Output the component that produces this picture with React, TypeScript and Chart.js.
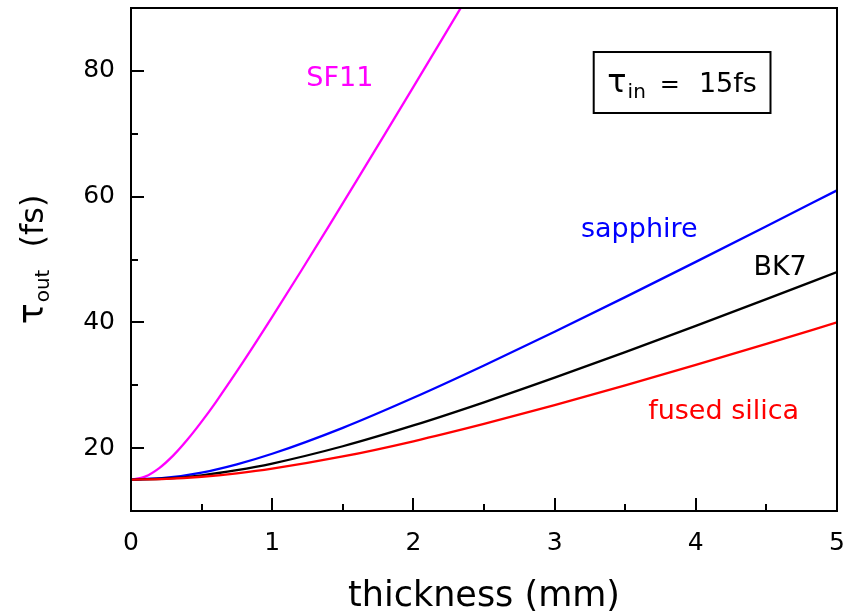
import React, { useEffect, useRef } from 'react';
import { Chart, registerables } from 'chart.js';

Chart.register(...registerables);

// thickness (mm)
const thickness = [0, 0.25, 0.5, 0.75, 1, 1.5, 2, 2.5, 3, 3.5, 4, 4.5, 5];
const fusedSilica = [15, 15.11, 15.45, 16.0, 16.73, 18.67, 21.09, 23.85, 26.83, 29.98, 33.24, 36.59, 40];
const bk7 = [15, 15.17, 15.68, 16.49, 17.55, 20.3, 23.61, 27.29, 31.2, 35.27, 39.44, 43.69, 48];
const sapphire = [15, 15.29, 16.12, 17.43, 19.1, 23.23, 28.01, 33.15, 38.52, 44.02, 49.62, 55.29, 61];
const sf11Thickness = [0, 0.1, 0.2, 0.3, 0.4, 0.5, 0.6, 0.8, 1.0, 1.2, 1.4, 1.6, 1.8, 2.0, 2.2, 2.4];
const sf11 = [15, 15.47, 16.82, 18.84, 21.36, 24.21, 27.29, 33.9, 40.86, 48.01, 55.28, 62.63, 70.03, 77.47, 84.94, 92.43];

const xTickLabels = [0, 1, 2, 3, 4, 5];
const yTickLabels = [20, 40, 60, 80];

const FONT = "'DejaVu Sans', sans-serif";

type Lbl = { text: string; x: number; y: number; color: string };
const curveLabels: Lbl[] = [
  { text: 'SF11', x: 1.479, y: 77.6, color: '#ff00ff' },
  { text: 'sapphire', x: 3.6, y: 53.6, color: '#0000ff' },
  { text: 'BK7', x: 4.597, y: 47.5, color: '#000000' },
  { text: 'fused silica', x: 4.197, y: 24.7, color: '#ff0000' },
];

const toPts = (xs: number[], ys: number[]) => xs.map((x, i) => ({ x, y: ys[i] }));

const decor = {
  id: 'decor',
  afterDatasetsDraw(chart: any) {
    const { ctx, chartArea, scales } = chart;
    const { left, right, top, bottom } = chartArea;
    const x = scales.x;
    const y = scales.y;
    ctx.save();
    ctx.strokeStyle = '#000';
    ctx.lineWidth = 2;
    ctx.strokeRect(left, top, right - left, bottom - top);
    ctx.beginPath();
    x.ticks.forEach((t: any) => {
      const px = Math.round(x.getPixelForValue(t.value));
      const len = xTickLabels.includes(t.value) ? 13 : 7;
      ctx.moveTo(px, bottom);
      ctx.lineTo(px, bottom - len);
    });
    y.ticks.forEach((t: any) => {
      const py = Math.round(y.getPixelForValue(t.value));
      const len = yTickLabels.includes(t.value) ? 13 : 7;
      ctx.moveTo(left, py);
      ctx.lineTo(left + len, py);
    });
    ctx.stroke();

    // curve labels
    ctx.textAlign = 'center';
    ctx.textBaseline = 'alphabetic';
    ctx.font = `27px ${FONT}`;
    curveLabels.forEach((l) => {
      ctx.fillStyle = l.color;
      ctx.fillText(l.text, x.getPixelForValue(l.x), y.getPixelForValue(l.y));
    });

    // inset box
    const bx0 = x.getPixelForValue(3.277);
    const bx1 = x.getPixelForValue(4.529);
    const by0 = y.getPixelForValue(83.0);
    const by1 = y.getPixelForValue(73.3);
    ctx.lineWidth = 2;
    ctx.strokeRect(bx0, by0, bx1 - bx0, by1 - by0);
    const parts = [
      { t: '\u03c4', f: `32px ${FONT}`, dy: 0, gap: 1 },
      { t: 'in', f: `20px ${FONT}`, dy: 6, gap: 14 },
      { t: '=', f: `24px ${FONT}`, dy: 0, gap: 19 },
      { t: '15fs', f: `27px ${FONT}`, dy: 0, gap: 0 },
    ];
    ctx.fillStyle = '#000';
    ctx.textAlign = 'left';
    let w = 0;
    parts.forEach((p) => { ctx.font = p.f; w += ctx.measureText(p.t).width + p.gap; });
    let cx = (bx0 + bx1) / 2 - w / 2;
    const base = y.getPixelForValue(76.6);
    parts.forEach((p) => {
      ctx.font = p.f;
      ctx.fillText(p.t, cx, base + p.dy);
      cx += ctx.measureText(p.t).width + p.gap;
    });

    // x title
    ctx.textAlign = 'center';
    ctx.font = `35px ${FONT}`;
    ctx.fillText('thickness (mm)', (left + right) / 2, 606);

    // y title
    ctx.translate(43, (top + bottom) / 2);
    ctx.rotate(-Math.PI / 2);
    const yparts = [
      { t: '\u03c4', f: `35px ${FONT}`, dy: 0, gap: 1 },
      { t: 'out', f: `20px ${FONT}`, dy: 6, gap: 22 },
      { t: '(fs)', f: `32px ${FONT}`, dy: 0, gap: 0 },
    ];
    ctx.textAlign = 'left';
    w = 0;
    yparts.forEach((p) => { ctx.font = p.f; w += ctx.measureText(p.t).width + p.gap; });
    cx = -w / 2;
    yparts.forEach((p) => {
      ctx.font = p.f;
      ctx.fillText(p.t, cx, p.dy);
      cx += ctx.measureText(p.t).width + p.gap;
    });
    ctx.restore();
  },
};

export default function App() {
  const ref = useRef<HTMLCanvasElement>(null);
  useEffect(() => {
    document.body.style.margin = '0';
    const canvas = ref.current!;
    const line = (label: string, data: any[], color: string) => ({
      label,
      data,
      borderColor: color,
      backgroundColor: color,
      borderWidth: 2.3,
      pointRadius: 0,
      fill: false,
      cubicInterpolationMode: 'monotone' as const,
    });
    const chart = new Chart(canvas, {
      type: 'line',
      data: {
        datasets: [
          line('fused silica', toPts(thickness, fusedSilica), '#ff0000'),
          line('BK7', toPts(thickness, bk7), '#000000'),
          line('sapphire', toPts(thickness, sapphire), '#0000ff'),
          line('SF11', toPts(sf11Thickness, sf11), '#ff00ff'),
        ],
      },
      options: {
        animation: false,
        responsive: false,
        devicePixelRatio: 1,
        layout: { padding: { top: 8, right: 10, left: 0, bottom: 0 } },
        plugins: { legend: { display: false }, tooltip: { enabled: false } },
        scales: {
          x: {
            type: 'linear',
            min: 0,
            max: 5,
            border: { display: false },
            grid: { display: false, drawTicks: false },
            ticks: {
              stepSize: 0.5,
              autoSkip: false,
              maxRotation: 0,
              padding: 17,
              color: '#000',
              font: { family: FONT, size: 25 },
              callback: (v: any) => (xTickLabels.includes(Number(v)) ? String(v) : ''),
            },
            afterFit: (s: any) => {
              s.height = 104;
              s.paddingLeft = 0;
              s.paddingRight = 0;
            },
          },
          y: {
            type: 'linear',
            min: 10,
            max: 90,
            border: { display: false },
            grid: { display: false, drawTicks: false },
            ticks: {
              stepSize: 10,
              autoSkip: false,
              padding: 16,
              color: '#000',
              font: { family: FONT, size: 25 },
              callback: (v: any) => (yTickLabels.includes(Number(v)) ? String(v) : ''),
            },
            afterFit: (s: any) => {
              s.width = 131;
              s.paddingTop = 0;
              s.paddingBottom = 0;
            },
          },
        },
      },
      plugins: [decor],
    });
    return () => chart.destroy();
  }, []);
  return (
    <div style={{ width: 847, height: 615, background: '#fff' }}>
      <canvas ref={ref} width={847} height={615} style={{ display: 'block' }} />
    </div>
  );
}
